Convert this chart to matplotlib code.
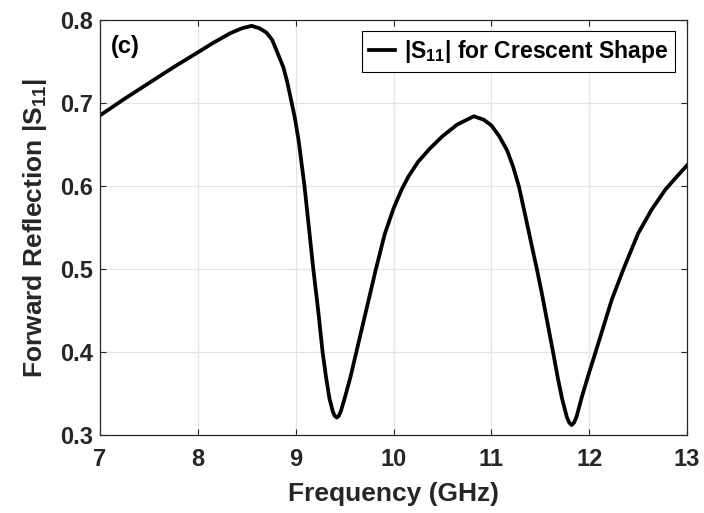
import matplotlib
matplotlib.use("Agg")
import matplotlib.pyplot as plt

freq = [7.0, 7.25, 7.5, 7.75, 8.0, 8.15, 8.33, 8.45, 8.55, 8.63, 8.70, 8.76, 8.805,
        8.84, 8.874, 8.91, 8.94, 8.965, 8.99, 9.03, 9.09, 9.135, 9.18, 9.23, 9.275, 9.31,
        9.345, 9.38, 9.40, 9.42, 9.44, 9.46, 9.50, 9.56, 9.62, 9.72, 9.82, 9.91, 10.0, 10.08,
        10.15, 10.25, 10.37, 10.5, 10.65, 10.82, 10.92, 11.0, 11.08, 11.16, 11.22, 11.28,
        11.34, 11.40, 11.47, 11.52, 11.57, 11.63, 11.68, 11.72, 11.77, 11.795, 11.82,
        11.845, 11.87, 11.92, 11.99, 12.065, 12.23, 12.35, 12.50, 12.64, 12.78, 12.90, 13.0]
s11 = [0.685, 0.705, 0.724, 0.743, 0.761, 0.772, 0.784, 0.790, 0.793, 0.790, 0.785,
       0.776, 0.763, 0.753, 0.743, 0.727, 0.711, 0.697, 0.683, 0.655, 0.600, 0.550, 0.500,
       0.450, 0.400, 0.370, 0.344, 0.328, 0.323, 0.321, 0.323, 0.328, 0.344, 0.370, 0.400,
       0.450, 0.500, 0.542, 0.573, 0.595, 0.611, 0.629, 0.645, 0.660, 0.674, 0.684, 0.680,
       0.673, 0.660, 0.643, 0.624, 0.600, 0.568, 0.535, 0.497, 0.468, 0.437, 0.400, 0.368,
       0.345, 0.322, 0.315, 0.312, 0.315, 0.322, 0.344, 0.372, 0.400, 0.463, 0.500, 0.543,
       0.572, 0.596, 0.612, 0.625]
xticks = [7, 8, 9, 10, 11, 12, 13]
yticks = [0.3, 0.4, 0.5, 0.6, 0.7, 0.8]
ytick_labels = ["0.3", "0.4", "0.5", "0.6", "0.7", "0.8"]

plt.rcParams['font.family'] = ['Liberation Sans', 'DejaVu Sans']
plt.rcParams['font.weight'] = 'bold'
plt.rcParams['mathtext.fontset'] = 'custom'
plt.rcParams['mathtext.rm'] = 'Liberation Sans:bold'
plt.rcParams['mathtext.bf'] = 'Liberation Sans:bold'
plt.rcParams['mathtext.default'] = 'bf'

fig = plt.figure(figsize=(7.04, 5.13), dpi=100)
ax = fig.add_axes([0.142, 0.152, 0.834, 0.809])
ax.plot(freq, s11, color='black', lw=2.7, solid_joinstyle='round',
        label=r'|S$_{11}$| for Crescent Shape')
ax.set_xlim(7, 13)
ax.set_ylim(0.3, 0.8)
ax.set_xticks(xticks)
ax.set_yticks(yticks)
ax.set_yticklabels(ytick_labels)
ax.grid(True, color='#e4e4e4', lw=0.9)
ax.set_axisbelow(True)
dark = '#262626'
for sp in ax.spines.values():
    sp.set_color(dark)
    sp.set_linewidth(0.9)
ax.tick_params(direction='in', top=True, right=True, length=4.5, width=0.8,
               colors=dark, labelsize=17)
ax.tick_params(axis='x', pad=9)
ax.tick_params(axis='y', pad=5)
for lab in ax.get_xticklabels() + ax.get_yticklabels():
    lab.set_fontweight('bold')
ax.set_xlabel('Frequency (GHz)', fontsize=19, fontweight='bold', color=dark, labelpad=8)
ax.set_ylabel(r'Forward Reflection |S$_{11}$|', fontsize=19, fontweight='bold', color=dark,
              labelpad=8)
ax.text(0.018, 0.965, '(c)', transform=ax.transAxes, fontsize=17, fontweight='bold',
        va='top', ha='left', color='black')
leg = ax.legend(loc='upper right', bbox_to_anchor=(0.9796, 0.9735), borderaxespad=0,
                frameon=True, fancybox=False, edgecolor='black', handlelength=1.15,
                handletextpad=0.4, borderpad=0.3, framealpha=1,
                prop={'weight': 'bold', 'size': 16.5})
leg.get_frame().set_linewidth(0.8)
fig.savefig('out.png', dpi=100)
